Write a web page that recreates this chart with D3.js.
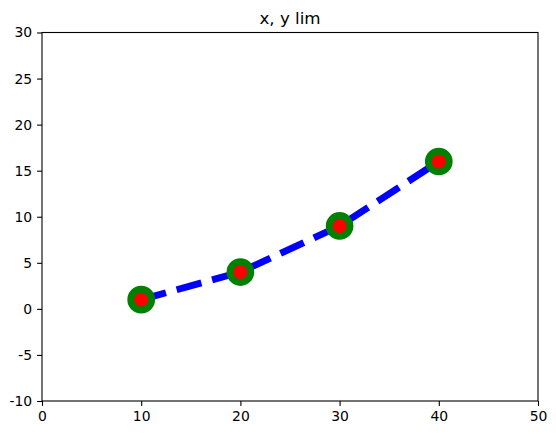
<!DOCTYPE html>
<html><head><meta charset="utf-8">
<script src="https://cdn.jsdelivr.net/npm/d3@7"></script>
<style>body{margin:0;background:#fff;} svg{display:block;}</style>
</head><body>
<script>
const xValues = [10, 20, 30, 40];
const yValues = [1, 4, 9, 16];
const xTicks = [0, 10, 20, 30, 40, 50];
const yTicks = [-10, -5, 0, 5, 10, 15, 20, 25, 30];
const title = "x, y lim";

const W = 556, H = 435;
const m = {left: 42, right: 18, top: 32.5, bottom: 34};
const svg = d3.select("body").append("svg").attr("width", W).attr("height", H);
const x = d3.scaleLinear().domain([0, 50]).range([m.left, W - m.right]);
const y = d3.scaleLinear().domain([-10, 30]).range([H - m.bottom, m.top]);
const font = "DejaVu Sans, sans-serif";

const xa = svg.append("g").attr("transform", `translate(0,${H - m.bottom})`)
  .call(d3.axisBottom(x).tickValues(xTicks).tickFormat(d3.format("d")).tickSize(4.9).tickPadding(4.9));
const ya = svg.append("g").attr("transform", `translate(${m.left},0)`)
  .call(d3.axisLeft(y).tickValues(yTicks).tickFormat(d3.format("d")).tickSize(4.9).tickPadding(4.9));
[xa, ya].forEach(a => {
  a.select(".domain").remove();
  a.selectAll("text").attr("font-family", font).attr("font-size", "13.9px").attr("fill", "#000");
  a.selectAll("line").attr("stroke", "#000").attr("stroke-width", 1.1);
});
ya.selectAll("text").text(d => d < 0 ? "-" + Math.abs(d) : d);

const pts = xValues.map((v, i) => [v, yValues[i]]);
svg.append("path").datum(pts)
  .attr("d", d3.line().x(d => x(d[0])).y(d => y(d[1])))
  .attr("fill", "none").attr("stroke", "blue").attr("stroke-width", 6.9)
  .attr("stroke-dasharray", "25.7,11.1");

svg.append("g").selectAll("circle").data(pts).join("circle")
  .attr("cx", d => x(d[0])).attr("cy", d => y(d[1])).attr("r", 10.4)
  .attr("fill", "red").attr("stroke", "green").attr("stroke-width", 6.9);

svg.append("rect").attr("x", m.left).attr("y", m.top)
  .attr("width", W - m.left - m.right).attr("height", H - m.top - m.bottom)
  .attr("fill", "none").attr("stroke", "#000").attr("stroke-width", 1.1);

svg.append("text").attr("x", (m.left + W - m.right) / 2).attr("y", m.top - 8.3)
  .attr("text-anchor", "middle").attr("font-family", font).attr("font-size", "16.7px")
  .attr("fill", "#000").text(title);
</script>
</body></html>
